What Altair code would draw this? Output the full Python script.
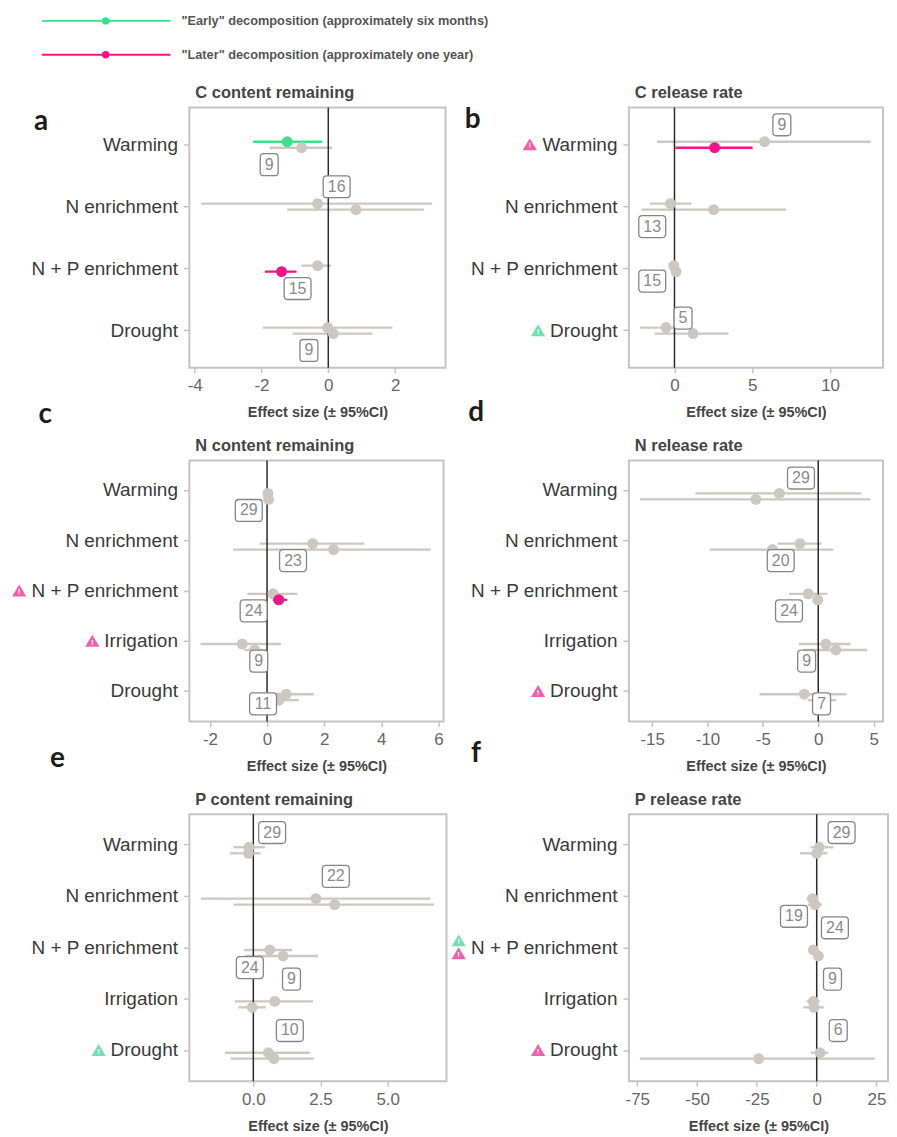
import altair as alt
import pandas as pd

# ---------------- data ----------------
panel_titles = ["C content remaining", "C release rate", "N content remaining",
                "N release rate", "P content remaining", "P release rate"]
panel_letters = ["a", "b", "c", "d", "e", "f"]

treat4 = ["Warming", "N enrichment", "N + P enrichment", "Drought"]
treat5 = ["Warming", "N enrichment", "N + P enrichment", "Irrigation", "Drought"]
panel_treatments = [treat4, treat4, treat5, treat5, treat5, treat5]

# "Early" decomposition (about six months): estimate and 95% CI
early_est = [
    [-1.23, -0.32, -0.32, -0.02],
    [5.79, -0.26, -0.04, -0.54],
    [0.03, 1.60, 0.21, -0.87, 0.67],
    [-3.51, -1.65, -0.90, 0.69, -1.26],
    [-0.16, 2.33, 0.61, 0.80, 0.56],
    [1.1, -1.7, -1.4, -1.4, 1.4],
]
early_lo = [
    [-2.25, -3.81, -0.80, -1.96],
    [-1.11, -1.58, -0.15, -2.22],
    [-0.10, -0.26, -0.69, -2.33, -0.40],
    [-11.09, -3.66, -2.64, -1.74, -5.31],
    [-0.74, -1.95, -0.34, -0.69, -1.05],
    [-2.5, -4.2, -3.0, -4.2, -2.5],
]
early_hi = [
    [-0.18, 3.11, 0.08, 1.92],
    [12.6, 1.09, 0.08, 0.90],
    [0.15, 3.41, 1.06, 0.48, 1.64],
    [3.90, 0.30, 0.81, 2.91, 2.55],
    [0.43, 6.59, 1.44, 2.22, 2.10],
    [7.0, 0.7, 0.5, 1.3, 4.9],
]
# "Later" decomposition (about one year)
later_est = [
    [-0.80, 0.83, -1.40, 0.15],
    [2.58, 2.52, 0.10, 1.19],
    [0.05, 2.33, 0.41, -0.43, 0.42],
    [-5.64, -4.14, -0.05, 1.59, 0.30],
    [-0.18, 3.03, 1.11, -0.04, 0.77],
    [0.0, -0.7, 0.7, -1.1, -24.3],
]
later_lo = [
    [-1.75, -1.23, -1.90, -1.07],
    [0.06, -2.12, -0.05, -1.28],
    [-0.10, -1.19, 0.20, -0.80, 0.05],
    [-16.1, -9.80, -0.50, -1.35, -0.95],
    [-0.87, -0.74, -0.32, -0.56, -0.84],
    [-7.0, -3.6, -1.0, -5.6, -73.9],
]
later_hi = [
    [0.12, 2.87, -0.95, 1.32],
    [5.02, 7.18, 0.25, 3.48],
    [0.15, 5.73, 0.70, -0.05, 1.12],
    [4.71, 1.35, 0.40, 4.41, 1.60],
    [0.27, 6.72, 2.41, 0.46, 2.25],
    [4.5, 2.1, 2.0, 3.0, 24.3],
]

# significant effects (coloured)
sig_panel = [0, 0, 1, 2]
sig_treat = ["Warming", "N + P enrichment", "Warming", "N + P enrichment"]
sig_phase = ["Early", "Later", "Later", "Later"]

# sample sizes (boxed labels)
n_panel = [0, 0, 0, 0, 1, 1, 1, 1, 2, 2, 2, 2, 2, 3, 3, 3, 3, 3,
           4, 4, 4, 4, 4, 5, 5, 5, 5, 5]
n_treat = treat4 + treat4 + treat5 * 4
n_value = [9, 16, 15, 9, 9, 13, 15, 5, 29, 23, 24, 9, 11, 29, 20, 24, 9, 7,
           29, 22, 24, 9, 10, 29, 19, 24, 9, 6]
n_x = [-1.77, 0.25, -0.92, -0.58,
       6.9, -1.43, -1.43, 0.55,
       -0.64, 0.91, -0.47, -0.29, -0.14,
       -1.56, -3.39, -2.64, -1.05, 0.30,
       0.70, 3.07, -0.13, 1.42, 1.36,
       10.4, -9.5, 7.6, 6.6, 9.0]
n_side = ["below", "above", "below", "below",
          "above", "below", "below-near", "above-near",
          "below", "below", "below", "below", "below-near",
          "above-near", "below", "below", "below", "below-near",
          "above-near", "above", "below", "above", "above",
          "above-near", "below", "above", "above", "above"]

# warning triangles next to treatment names
tri_panel = [1, 1, 2, 2, 3, 4, 5, 5, 5]
tri_treat = ["Warming", "Drought", "N + P enrichment", "Irrigation", "Drought",
             "Drought", "N + P enrichment", "N + P enrichment", "Drought"]
tri_phase = ["Later", "Early", "Later", "Later", "Later", "Early", "Early", "Later", "Later"]

legend_labels = ['"Early" decomposition (approximately six months)',
                 '"Later" decomposition (approximately one year)']

x_domains = [[-4.16, 3.51], [-2.93, 13.4], [-2.72, 6.18],
             [-17.1, 5.85], [-2.38, 7.19], [-78.5, 29.8]]
x_ticks = [[-4, -2, 0, 2], [0, 5, 10], [-2, 0, 2, 4, 6],
           [-15, -10, -5, 0, 5], [0, 2.5, 5], [-75, -50, -25, 0, 25]]
x_formats = ["d", "d", "d", "d", ".1f", "d"]

# ---------------- styling ----------------
FONT = "Liberation Sans"
GREEN, PINK, GREY = "#3ddf8c", "#ef1589", "#cdc7c1"
TRI_COL = {"Early": "#72e0b3", "Later": "#f35eab"}
panel_w = [257, 255, 255, 255, 258, 260]
panel_h = [261, 261, 262, 262, 268, 268]
letter_xy = [(-148.7, 14), (-156.7, 12.3), (-144.7, -45.7),
             (-153.3, -47.3), (-132.3, -55.7), (-153.3, -60.7)]
PAD_OUTER = 0.1
PAIR_GAP = 6.0  # vertical distance between early and later rows

ARIAL = {' ': 278, '+': 584, 'D': 722, 'I': 278, 'N': 722, 'P': 667, 'W': 944,
         'a': 556, 'c': 500, 'e': 556, 'g': 556, 'h': 556, 'i': 222, 'm': 833,
         'n': 556, 'o': 556, 'r': 333, 't': 278, 'u': 556}
YLAB_SIZE = 19


def text_w(s, size=YLAB_SIZE):
    return sum(ARIAL.get(ch, 556) for ch in s) * size / 1000.0


BOX_UNIT = 15.0
SIDE_DY = {"above": -20.0, "below": 20.0, "above-near": -12.5, "below-near": 12.5}


def box_path(digits, side):
    hw = (9.0 if digits == 1 else 13.5) / BOX_UNIT
    hh = 11.0 / BOX_UNIT
    cy = SIDE_DY[side] / BOX_UNIT
    r = 3.5 / BOX_UNIT
    t, b, l, rt = cy - hh, cy + hh, -hw, hw
    f = lambda v: f"{v:.3f}"
    return (f"M{f(l + r)},{f(t)}H{f(rt - r)}Q{f(rt)},{f(t)} {f(rt)},{f(t + r)}"
            f"V{f(b - r)}Q{f(rt)},{f(b)} {f(rt - r)},{f(b)}H{f(l + r)}"
            f"Q{f(l)},{f(b)} {f(l)},{f(b - r)}V{f(t + r)}Q{f(l)},{f(t)} {f(l + r)},{f(t)}Z")


box_keys = [f"{d}|{s}" for d in (1, 2) for s in SIDE_DY]
box_paths = [box_path(d, s) for d in (1, 2) for s in SIDE_DY]

TRI_UNIT = 7.5


def tri_path(dy):
    cy = dy / TRI_UNIT
    return f"M0,{cy - 0.85:.3f}L0.95,{cy + 0.75:.3f}L-0.95,{cy + 0.75:.3f}Z"


cscale = alt.Scale(domain=["Early", "Later", "ns"], range=[GREEN, PINK, GREY])
shape_scale = alt.Scale(domain=box_keys, range=box_paths)


def make_panel(i):
    treats = panel_treatments[i]
    rows = []
    for j, t in enumerate(treats):
        for ph, e, lo, hi in [("Early", early_est[i][j], early_lo[i][j], early_hi[i][j]),
                              ("Later", later_est[i][j], later_lo[i][j], later_hi[i][j])]:
            sig = any(sp == i and st == t and sph == ph
                      for sp, st, sph in zip(sig_panel, sig_treat, sig_phase))
            rows.append(dict(treatment=t, phase=ph, est=e, lo=lo, hi=hi,
                             cat=ph if sig else "ns"))
    df = pd.DataFrame(rows)
    df = pd.concat([df[df.cat == "ns"], df[df.cat != "ns"]])

    ldf = pd.DataFrame([dict(treatment=t, n=str(v), nx=x, side=s,
                             key=f"{len(str(v))}|{s}")
                        for p, t, v, x, s in zip(n_panel, n_treat, n_value, n_x, n_side)
                        if p == i])

    band = panel_h[i] / (len(treats) + 2 * PAD_OUTER)
    c = band / 2.0
    offscale = alt.Scale(domain=["Early", "Later"], paddingInner=0, paddingOuter=0,
                         range=[c - PAIR_GAP, c + PAIR_GAP])

    xscale = alt.Scale(domain=x_domains[i], nice=False, zero=False)
    xaxis = alt.Axis(values=x_ticks[i], format=x_formats[i],
                     title="Effect size (\u00b1 95%CI)",
                     labelExpr="replace(datum.label, '\u2212', '-')")
    yscale = alt.Scale(type="band", domain=treats, paddingInner=0, paddingOuter=PAD_OUTER)
    yaxis = alt.Axis(title=None)
    Y = alt.Y("treatment:N", scale=yscale, axis=yaxis)

    layers = []
    layers.append(alt.Chart(df).mark_rule(strokeWidth=2.3).encode(
        x=alt.X("lo:Q", scale=xscale, axis=xaxis), x2="hi:Q", y=Y,
        yOffset=alt.YOffset("phase:N", scale=offscale),
        color=alt.Color("cat:N", scale=cscale, legend=None)))
    layers.append(alt.Chart(pd.DataFrame({"zero": [0.0]})).mark_rule(
        color="#2b2b2b", strokeWidth=1.5).encode(
        x=alt.X("zero:Q", scale=xscale, axis=xaxis)))
    layers.append(alt.Chart(df).mark_circle(size=120, opacity=1).encode(
        x=alt.X("est:Q", scale=xscale, axis=xaxis), y=Y,
        yOffset=alt.YOffset("phase:N", scale=offscale),
        color=alt.Color("cat:N", scale=cscale, legend=None)))
    layers.append(alt.Chart(ldf).mark_point(
        filled=True, fill="white", stroke="#858585", strokeWidth=1.3,
        size=(2 * BOX_UNIT) ** 2, opacity=1).encode(
        x=alt.X("nx:Q", scale=xscale, axis=xaxis), y=Y,
        shape=alt.Shape("key:N", scale=shape_scale, legend=None)))
    for side, dy in SIDE_DY.items():
        layers.append(alt.Chart(ldf).transform_filter(alt.datum.side == side).mark_text(
            dy=dy, font=FONT, fontSize=16, color="#8a8a8a",
            align="center", baseline="middle").encode(
            x=alt.X("nx:Q", scale=xscale, axis=xaxis), y=Y, text="n:N"))

    tris = [(t, ph) for p, t, ph in zip(tri_panel, tri_treat, tri_phase) if p == i]
    for t, ph in tris:
        both = sum(1 for tt, _ in tris if tt == t) > 1
        dy = (-7.0 if ph == "Early" else 6.0) if both else 0.0
        tx = -(6 + 6 + text_w(t) + 11.5)
        tdf = pd.DataFrame({"treatment": [t], "mark": ["!"]})
        layers.append(alt.Chart(tdf).mark_point(
            shape=tri_path(dy), filled=True, size=(2 * TRI_UNIT) ** 2,
            color=TRI_COL[ph], opacity=1).encode(x=alt.value(tx), y=Y))
        layers.append(alt.Chart(tdf).mark_text(
            dy=dy + 1.5, fontSize=8, fontWeight="bold", color="white", font=FONT).encode(
            x=alt.value(tx), y=Y, text="mark:N"))

    # panel title and letter (as text marks so they don't disturb layout)
    layers.append(alt.Chart(pd.DataFrame({"title": [panel_titles[i]]})).mark_text(
        font=FONT, fontSize=16.5, fontWeight="bold", color="#454545",
        align="left", baseline="middle").encode(
        x=alt.value(6), y=alt.value(-14.5), text="title:N"))
    lx, ly = letter_xy[i]
    layers.append(alt.Chart(pd.DataFrame({"letter": [panel_letters[i]]})).mark_text(
        font="Lato", fontSize=28, fontWeight="bold", color="#1c1c1c",
        align="center", baseline="middle").encode(
        x=alt.value(lx), y=alt.value(ly), text="letter:N"))

    if i == 0:
        for lab, col, ly in zip(legend_labels, [GREEN, PINK], [-87, -53]):
            ldf2 = pd.DataFrame({"label": [lab]})
            layers.append(alt.Chart(ldf2).mark_rule(color=col, strokeWidth=2).encode(
                x=alt.value(-148), x2=alt.value(-19), y=alt.value(ly)))
            layers.append(alt.Chart(ldf2).mark_circle(color=col, size=55, opacity=1).encode(
                x=alt.value(-84), y=alt.value(ly)))
            layers.append(alt.Chart(ldf2).mark_text(
                align="left", baseline="middle", font=FONT, fontSize=12.8,
                fontWeight="bold", color="#555555").encode(
                x=alt.value(-8), y=alt.value(ly), text="label:N"))
        layers.append(alt.Chart(pd.DataFrame({"a": [0]})).mark_square(
            size=4, opacity=0).encode(x=alt.value(-180), y=alt.value(-96)))

    return alt.layer(*layers).properties(width=panel_w[i], height=panel_h[i])


chart = alt.concat(*[make_panel(i) for i in range(6)], columns=2,
                   spacing={"row": 93, "column": 183}, bounds="flush", align="each"
                   ).properties(padding=0).configure_view(
    stroke="#c4c4c4", strokeWidth=2
).configure_axisX(
    labelFont=FONT, labelFontSize=17, labelColor="#666666", labelFlush=False,
    tickColor="#c4c4c4", tickSize=5, tickWidth=1.5, labelPadding=5,
    domain=False, grid=False, titleFont=FONT, titleFontSize=14.5,
    titleFontWeight="bold", titleColor="#454545", titlePadding=12
).configure_axisY(
    labelFont=FONT, labelFontSize=YLAB_SIZE, labelColor="#3a3a3a",
    tickColor="#c4c4c4", tickSize=6, tickWidth=1.5, labelPadding=6,
    domain=False, grid=False, labelLimit=300
)

chart.save("out.html", embed_options={"renderer": "svg", "actions": False})
